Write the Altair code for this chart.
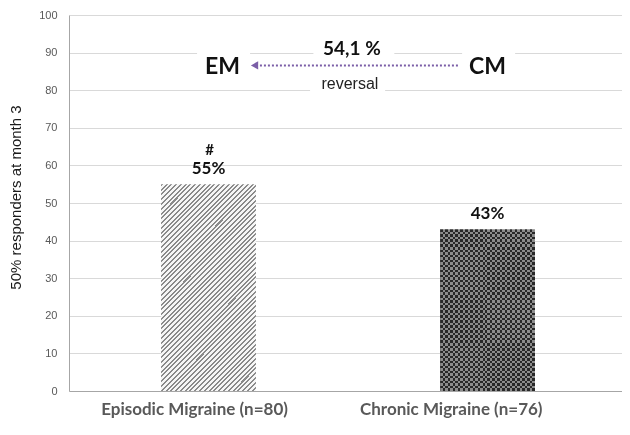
import math
import altair as alt
import pandas as pd

# ---- data ----
categories = ["Episodic Migraine (n=80)", "Chronic Migraine (n=76)"]
values = [55, 43]
value_labels = ["55%", "43%"]
markers = ["#", ""]
y_ticks = [0, 10, 20, 30, 40, 50, 60, 70, 80, 90, 100]

# annotation layer (x in a 0..2 helper scale: 0.5 / 1.5 = bar centres)
xlabel_x = [0.45, 1.37]
xlabel_y = [-5.0, -5.0]

bold_text = ["EM", "CM", "54,1 %"]
bold_x = [0.55, 1.50, 1.014]
bold_y = [86.3, 86.3, 91.0]
bold_size = [23, 23, 19]

reg_text = ["reversal"]
reg_x = [1.007]
reg_y = [81.6]

arrow_x = [1.394]
arrow_x2 = [0.675]
arrow_y = [86.6]
head_x = [0.665]

mask_x = [0.459, 0.876, 1.409, 0.864]
mask_x2 = [0.649, 1.166, 1.599, 1.133]
mask_y = [88.0, 88.0, 88.0, 78.0]
mask_y2 = [92.0, 93.0, 92.0, 82.5]

# ---- layout ----
W, H = 553, 376
XRANGE = [0, 558]
BAR_W = 95
PX_PER_UNIT = H / 100.0

df = pd.DataFrame({"category": categories, "value": values,
                   "label": value_labels, "marker": markers})


def diag_hatch(w, h, period, frac, c1, c2):
    a = w / h
    k = (a + 1) / (a * a + 1)
    n = max(1, round((w + h) / math.sqrt(2) / period))
    stops = []
    for i in range(n):
        s, m, e = i / n, (i + frac) / n, (i + 1) / n
        stops += [{"offset": s, "color": c1}, {"offset": m, "color": c1},
                  {"offset": m, "color": c2}, {"offset": e, "color": c2}]
    return {"gradient": "linear", "x1": 0, "y1": 0, "x2": k * a, "y2": k,
            "stops": stops}


def stripes(length, period, c1, c2, vertical):
    n = max(1, round(length / period))
    stops = []
    for i in range(n):
        s, m, e = i / n, (i + 0.5) / n, (i + 1) / n
        stops += [{"offset": s, "color": c1}, {"offset": m, "color": c1},
                  {"offset": m, "color": c2}, {"offset": e, "color": c2}]
    g = {"gradient": "linear", "x1": 0, "y1": 0, "stops": stops}
    if vertical:
        g.update({"x2": 1, "y2": 0})
    else:
        g.update({"x2": 0, "y2": 1})
    return g


h1 = values[0] * PX_PER_UNIT
h2 = values[1] * PX_PER_UNIT

yaxis = alt.Axis(values=y_ticks, grid=True, gridColor="#d9d9d9",
                 domainColor="#a6a6a6", ticks=False,
                 labelFont="Liberation Sans", labelFontSize=11,
                 labelColor="#595959", labelPadding=12,
                 title="50% responders at month 3",
                 titleFont="Liberation Sans", titleFontSize=15,
                 titleFontWeight="normal", titleColor="#1a1a1a",
                 titleAngle=270, titleX=-49, titleY=182,
                 titleAlign="center", titleBaseline="alphabetic")
yscale = alt.Scale(domain=[0, 100], nice=False, zero=True)


def Y(field):
    return alt.Y(field, scale=yscale, axis=yaxis)


xcat = alt.X("category:N",
             scale=alt.Scale(domain=categories, range=XRANGE,
                             paddingInner=0.66, paddingOuter=0.33),
             axis=alt.Axis(labels=False, ticks=False, title=None, domain=True,
                           domainColor="#a6a6a6", domainWidth=1.2, grid=False))

base = alt.Chart(df)

bar1 = base.transform_filter(alt.datum.category == categories[0]).mark_bar(
    fill=diag_hatch(BAR_W, h1, 3.4, 0.42, "#8a8a8a", "#f6f6f6"), strokeWidth=0
).encode(x=xcat, y=Y("value:Q"))

bar2a = base.transform_filter(alt.datum.category == categories[1]).mark_bar(
    fill=stripes(BAR_W, 5, "#282828", "#8c8c8c", True), strokeWidth=0
).encode(x=xcat, y=Y("value:Q"))

bar2b = base.transform_filter(alt.datum.category == categories[1]).mark_bar(
    fill=stripes(h2, 5, "#000000", "#b4b4b4", False), strokeWidth=0,
    blend="difference"
).encode(x=xcat, y=Y("value:Q"))

val_text = base.mark_text(font="Lato", fontWeight="bold", fontSize=17,
                          color="#111111", baseline="middle", dy=-15).encode(
    x=xcat, y=Y("value:Q"), text="label:N")

mark_text = base.mark_text(font="Lato", fontWeight="bold", fontSize=15,
                           color="#111111", baseline="middle", dy=-34, dx=1).encode(
    x=xcat, y=Y("value:Q"), text="marker:N")

bars = alt.layer(bar1, bar2a, bar2b, val_text, mark_text)

# ---- annotations ----
xa = alt.Scale(domain=[0, 2], range=XRANGE, nice=False, zero=False)

mask_df = pd.DataFrame({"x": mask_x, "x2": mask_x2, "value": mask_y, "y2": mask_y2})
masks = alt.Chart(mask_df).mark_rect(color="white").encode(
    x=alt.X("x:Q", scale=xa, axis=None), x2="x2:Q",
    y=Y("value:Q"), y2="y2:Q")

arrow_df = pd.DataFrame({"x": arrow_x, "x2": arrow_x2, "value": arrow_y})
arrow = alt.Chart(arrow_df).mark_rule(color="#7b5ea7", strokeWidth=2,
                                      strokeDash=[2, 2]).encode(
    x=alt.X("x:Q", scale=xa, axis=None), x2="x2:Q", y=Y("value:Q"))

head_df = pd.DataFrame({"x": head_x, "value": arrow_y})
head = alt.Chart(head_df).mark_point(shape="triangle-left", filled=True,
                                     color="#7b5ea7", size=70, opacity=1).encode(
    x=alt.X("x:Q", scale=xa, axis=None), y=Y("value:Q"))

bold_df = pd.DataFrame({"t": bold_text, "x": bold_x, "value": bold_y, "s": bold_size})
bold = alt.Chart(bold_df).mark_text(font="Lato", fontWeight="bold",
                                    color="#111111", baseline="middle").encode(
    x=alt.X("x:Q", scale=xa, axis=None), y=Y("value:Q"),
    text="t:N", size=alt.Size("s:Q", scale=None))

reg_df = pd.DataFrame({"t": reg_text, "x": reg_x, "value": reg_y})
reg = alt.Chart(reg_df).mark_text(font="Liberation Sans", fontSize=16,
                                  color="#222222", baseline="middle").encode(
    x=alt.X("x:Q", scale=xa, axis=None), y=Y("value:Q"), text="t:N")

xl_df = pd.DataFrame({"t": categories, "x": xlabel_x, "value": xlabel_y})
xlabels = alt.Chart(xl_df).mark_text(font="Lato", fontWeight="bold", fontSize=17,
                                     color="#595959", baseline="middle").encode(
    x=alt.X("x:Q", scale=xa, axis=None), y=Y("value:Q"), text="t:N")

ann = alt.layer(masks, arrow, head, bold, reg, xlabels)

chart = alt.layer(bars, ann).resolve_scale(x="independent").properties(
    width=W, height=H,
    autosize=alt.AutoSizeParams(type="none"),
    padding={"left": 61, "top": 7, "right": 0, "bottom": 36},
).configure_view(stroke=None)

chart.save("out.html", embed_options={"renderer": "svg", "actions": False})
